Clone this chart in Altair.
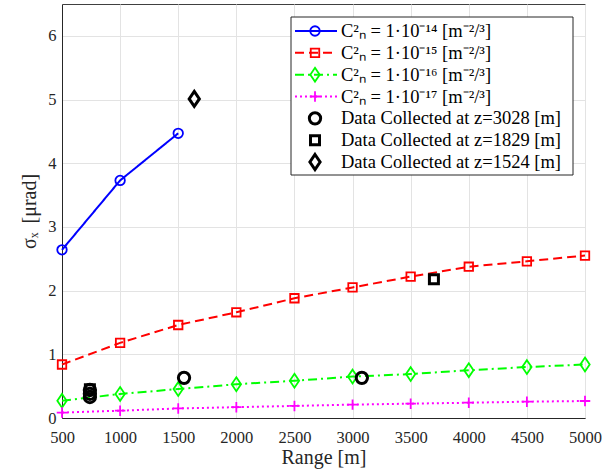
import altair as alt
import pandas as pd

# ---------------- data ----------------
ranges = [500, 1000, 1500, 2000, 2500, 3000, 3500, 4000, 4500, 5000]
cn14_ranges = [500, 1000, 1500]
cn14_vals = [2.64, 3.73, 4.47]
cn15_vals = [0.84, 1.18, 1.46, 1.66, 1.88, 2.05, 2.22, 2.375, 2.46, 2.55]
cn16_vals = [0.27, 0.377, 0.455, 0.53, 0.585, 0.65, 0.69, 0.75, 0.80, 0.84]
cn17_vals = [0.085, 0.115, 0.15, 0.17, 0.19, 0.21, 0.225, 0.24, 0.256, 0.267]

z3028_ranges = [740, 740, 740, 1550, 3080]
z3028_vals = [0.44, 0.38, 0.33, 0.63, 0.63]
z1829_ranges = [740, 3700]
z1829_vals = [0.45, 2.18]
z1524_ranges = [1638]
z1524_vals = [5.01]

series_names = [
    "C²ₙ = 1·10⁻¹⁴  [m⁻²/³]",
    "C²ₙ = 1·10⁻¹⁵  [m⁻²/³]",
    "C²ₙ = 1·10⁻¹⁶  [m⁻²/³]",
    "C²ₙ = 1·10⁻¹⁷  [m⁻²/³]",
    "Data Collected at z=3028 [m]",
    "Data Collected at z=1829 [m]",
    "Data Collected at z=1524 [m]",
]
colors = ["#0000ff", "#ff0000", "#00ff00", "#ff00ff", "#000000", "#000000", "#000000"]
diamond = "M0,-1L0.68,0L0,1L-0.68,0Z"
plus = "M-1,0L1,0M0,-1L0,1"
shapes = ["circle", "square", diamond, plus, "circle", "square", diamond]
marker_sizes = [90, 72, 190, 110, 128, 81, 225]
dashes = [[1, 0], [9, 5], [9, 4, 2, 4], [2, 3]]

x_ticks = ranges
y_ticks = [0, 1, 2, 3, 4, 5, 6]

# ---------------- tables ----------------
rows = []
for r, v in zip(cn14_ranges, cn14_vals):
    rows.append({"range": r, "sigma": v, "series": series_names[0]})
for vals, name in [(cn15_vals, series_names[1]), (cn16_vals, series_names[2]), (cn17_vals, series_names[3])]:
    for r, v in zip(ranges, vals):
        rows.append({"range": r, "sigma": v, "series": name})
theory = pd.DataFrame(rows)

mrows = []
for rr, vv, name in [(z3028_ranges, z3028_vals, series_names[4]),
                     (z1829_ranges, z1829_vals, series_names[5]),
                     (z1524_ranges, z1524_vals, series_names[6])]:
    for r, v in zip(rr, vv):
        mrows.append({"range": r, "sigma": v, "series": name})
measured = pd.DataFrame(mrows)
all_pts = pd.concat([theory, measured], ignore_index=True)

legend_df = pd.DataFrame({"row": list(range(7)), "series": series_names, "label": series_names})

FONT = "Liberation Serif"

color_scale = alt.Scale(domain=series_names, range=colors)
shape_scale = alt.Scale(domain=series_names, range=shapes)
dash_scale = alt.Scale(domain=series_names[:4], range=dashes)

x_enc = alt.X("range:Q", scale=alt.Scale(domain=[500, 5000], nice=False),
              axis=alt.Axis(values=x_ticks, title="Range [m]", format="d"))
y_enc = alt.Y("sigma:Q", scale=alt.Scale(domain=[0, 6.5], nice=False),
              axis=alt.Axis(values=y_ticks, title="σₓ\u2009\u00a0[μrad]", format="d"))

col = alt.Color("series:N", scale=color_scale, legend=None)
shp = alt.Shape("series:N", scale=shape_scale, legend=None)

lines = alt.Chart(theory).mark_line(strokeWidth=2).encode(
    x=x_enc, y=y_enc, color=col,
    strokeDash=alt.StrokeDash("series:N", scale=dash_scale, legend=None),
    detail="series:N",
)

leg_y = alt.Scale(domain=[0, 6], range=[27, 158])
leg_row = alt.Y("row:Q", scale=leg_y, axis=None)

point_layers = []
legend_point_layers = []
for i, name in enumerate(series_names):
    sw = 1.8 if i < 4 else 3
    point_layers.append(
        alt.Chart(all_pts).transform_filter(alt.datum.series == name)
        .mark_point(filled=False, strokeWidth=sw, opacity=1)
        .encode(x=x_enc, y=y_enc, color=col, shape=shp, size=alt.value(marker_sizes[i]))
    )
    legend_point_layers.append(
        alt.Chart(legend_df).transform_filter(alt.datum.series == name)
        .mark_point(filled=False, strokeWidth=sw, opacity=1)
        .encode(x=alt.value(253), y=leg_row, color=col, shape=shp, size=alt.value(marker_sizes[i]))
    )

main = alt.layer(lines, *point_layers)

# ---------------- legend ----------------
box = alt.Chart(legend_df.iloc[:1]).mark_rect(fill="white", stroke="#262626", strokeWidth=1).encode(
    x=alt.value(229), x2=alt.value(511), y=alt.value(13), y2=alt.value(171)
)
leg_lines = alt.Chart(legend_df.iloc[:4]).mark_rule(strokeWidth=2).encode(
    x=alt.value(233), x2=alt.value(275), y=leg_row, color=col,
    strokeDash=alt.StrokeDash("series:N", scale=dash_scale, legend=None),
)
leg_text = alt.Chart(legend_df).mark_text(align="left", baseline="middle", font=FONT,
                                          fontSize=18.5, color="black").encode(
    x=alt.value(279), y=leg_row, text="label:N",
)
legend = alt.layer(box, leg_lines, *legend_point_layers, leg_text)

chart = alt.layer(main, legend).resolve_scale(y="independent").properties(
    width=523, height=414,
    autosize=alt.AutoSizeParams(type="none"),
    padding={"left": 62, "top": 4, "right": 27, "bottom": 53},
).configure_view(
    stroke="#404040", strokeWidth=1
).configure_axis(
    labelFont=FONT, titleFont=FONT, labelFontSize=16.5, titleFontSize=20,
    labelColor="#262626", titleColor="#262626", titleFontWeight="normal",
    gridColor="#e3e3e3", gridWidth=1, domainColor="#262626",
    ticks=False, labelPadding=6, labelFlush=False,
).configure_axisX(
    labelPadding=11, titlePadding=2,
).configure_axisY(
    titlePadding=8,
)

chart.save("out.html", embed_options={"renderer": "svg", "actions": False})
